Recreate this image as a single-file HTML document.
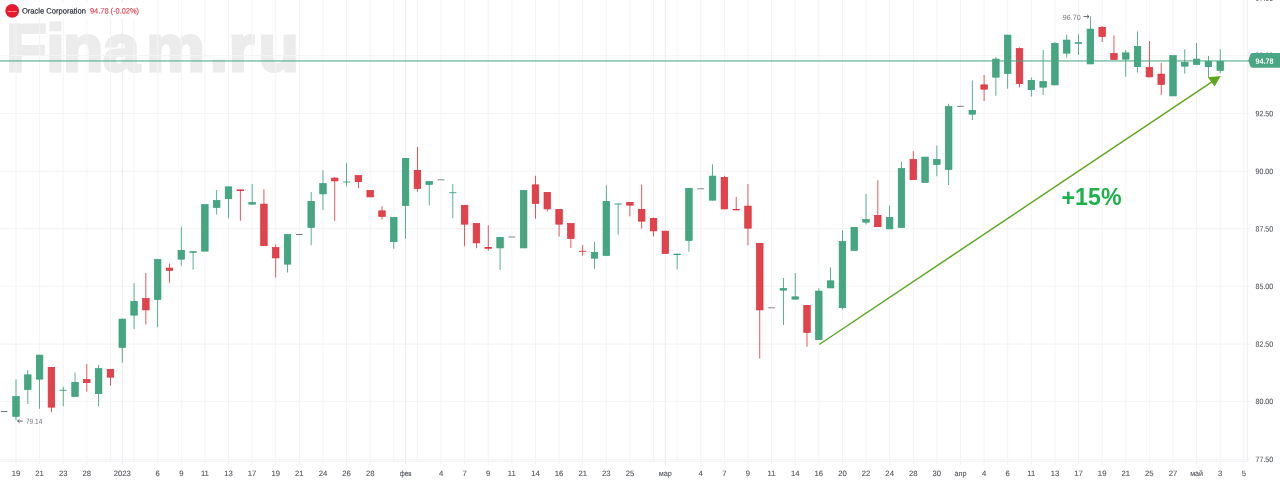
<!DOCTYPE html>
<html lang="ru"><head><meta charset="utf-8"><title>Oracle Corporation</title>
<style>
html,body{margin:0;padding:0;background:#fff;}
body{width:1280px;height:482px;overflow:hidden;position:relative;font-family:"Liberation Sans",sans-serif;}
svg{position:absolute;left:0;top:0;display:block;}
text{font-family:"Liberation Sans",sans-serif;}
</style></head><body>
<svg width="1280" height="482" viewBox="0 0 1280 482">
<rect x="0" y="0" width="1280" height="482" fill="#ffffff"/>
<text x="6.3 46.2 62.9 103 146.2 209.65 228.7 258.4" y="71.1" font-size="66" font-weight="bold" fill="#ececec" stroke="#ececec" stroke-width="3" stroke-linejoin="miter">Finam.ru</text>
<g fill="#f4f4f6">
<rect x="0" y="458.90" width="1250" height="1"/>
<rect x="0" y="400.80" width="1250" height="1"/>
<rect x="0" y="343.60" width="1250" height="1"/>
<rect x="0" y="285.80" width="1250" height="1"/>
<rect x="0" y="228.10" width="1250" height="1"/>
<rect x="0" y="170.70" width="1250" height="1"/>
<rect x="0" y="112.85" width="1250" height="1"/>
<rect x="0" y="55.10" width="1250" height="1"/>
</g>
<g fill="#f4f4f6">
<rect x="15.50" y="0" width="1" height="464.60"/>
<rect x="39.11" y="0" width="1" height="464.60"/>
<rect x="62.72" y="0" width="1" height="464.60"/>
<rect x="86.34" y="0" width="1" height="464.60"/>
<rect x="109.95" y="0" width="1" height="461.20"/>
<rect x="121.75" y="0" width="1" height="464.60" fill="#eaecef"/>
<rect x="133.56" y="0" width="1" height="461.20"/>
<rect x="157.17" y="0" width="1" height="464.60"/>
<rect x="180.78" y="0" width="1" height="464.60"/>
<rect x="204.40" y="0" width="1" height="464.60"/>
<rect x="228.01" y="0" width="1" height="464.60"/>
<rect x="251.62" y="0" width="1" height="464.60"/>
<rect x="275.23" y="0" width="1" height="464.60"/>
<rect x="298.84" y="0" width="1" height="464.60"/>
<rect x="322.46" y="0" width="1" height="464.60"/>
<rect x="346.07" y="0" width="1" height="464.60"/>
<rect x="369.68" y="0" width="1" height="464.60"/>
<rect x="393.29" y="0" width="1" height="461.20"/>
<rect x="405.10" y="0" width="1" height="464.60" fill="#eaecef"/>
<rect x="416.90" y="0" width="1" height="461.20"/>
<rect x="440.52" y="0" width="1" height="464.60"/>
<rect x="464.13" y="0" width="1" height="464.60"/>
<rect x="487.74" y="0" width="1" height="464.60"/>
<rect x="511.35" y="0" width="1" height="464.60"/>
<rect x="534.96" y="0" width="1" height="464.60"/>
<rect x="558.58" y="0" width="1" height="464.60"/>
<rect x="582.19" y="0" width="1" height="464.60"/>
<rect x="605.80" y="0" width="1" height="464.60"/>
<rect x="629.41" y="0" width="1" height="464.60"/>
<rect x="653.02" y="0" width="1" height="461.20"/>
<rect x="664.83" y="0" width="1" height="464.60" fill="#eaecef"/>
<rect x="676.64" y="0" width="1" height="461.20"/>
<rect x="700.25" y="0" width="1" height="464.60"/>
<rect x="723.86" y="0" width="1" height="464.60"/>
<rect x="747.47" y="0" width="1" height="464.60"/>
<rect x="771.08" y="0" width="1" height="464.60"/>
<rect x="794.70" y="0" width="1" height="464.60"/>
<rect x="818.31" y="0" width="1" height="464.60"/>
<rect x="841.92" y="0" width="1" height="464.60"/>
<rect x="865.53" y="0" width="1" height="464.60"/>
<rect x="889.14" y="0" width="1" height="464.60"/>
<rect x="912.76" y="0" width="1" height="464.60"/>
<rect x="936.37" y="0" width="1" height="464.60"/>
<rect x="959.98" y="0" width="1" height="464.60"/>
<rect x="983.59" y="0" width="1" height="464.60"/>
<rect x="1007.20" y="0" width="1" height="464.60"/>
<rect x="1030.82" y="0" width="1" height="464.60"/>
<rect x="1054.43" y="0" width="1" height="464.60"/>
<rect x="1078.04" y="0" width="1" height="464.60"/>
<rect x="1101.65" y="0" width="1" height="464.60"/>
<rect x="1125.26" y="0" width="1" height="464.60"/>
<rect x="1148.88" y="0" width="1" height="464.60"/>
<rect x="1172.49" y="0" width="1" height="464.60"/>
<rect x="1196.10" y="0" width="1" height="464.60"/>
<rect x="1219.71" y="0" width="1" height="464.60"/>
<rect x="1243.32" y="0" width="1" height="464.60"/>
</g>
<rect x="0" y="460.70" width="1248.00" height="1" fill="#eef0f3"/>
<rect x="1247.00" y="0" width="1" height="461.70" fill="#eef0f3"/>
<rect x="3" y="2.5" width="138" height="16.5" fill="#ffffff"/>
<rect x="0.89" y="411.10" width="6.60" height="0.8" fill="#55585f"/>
<rect x="15.60" y="379.25" width="0.80" height="41.25" fill="#339e78"/>
<rect x="12.75" y="396.60" width="6.50" height="19.80" fill="#47a682" stroke="#339e78" stroke-width="0.7"/>
<rect x="27.41" y="370.00" width="0.80" height="34.00" fill="#339e78"/>
<rect x="24.56" y="374.85" width="6.50" height="14.55" fill="#47a682" stroke="#339e78" stroke-width="0.7"/>
<rect x="39.21" y="354.75" width="0.80" height="54.00" fill="#339e78"/>
<rect x="36.36" y="355.10" width="6.50" height="24.05" fill="#47a682" stroke="#339e78" stroke-width="0.7"/>
<rect x="51.02" y="367.00" width="0.80" height="45.25" fill="#de303a"/>
<rect x="48.17" y="367.35" width="6.50" height="39.80" fill="#e0434b" stroke="#de303a" stroke-width="0.7"/>
<rect x="62.82" y="386.75" width="0.80" height="19.50" fill="#339e78"/>
<rect x="59.62" y="389.80" width="7.20" height="0.9" fill="#339e78"/>
<rect x="74.63" y="372.50" width="0.80" height="24.25" fill="#339e78"/>
<rect x="71.78" y="382.35" width="6.50" height="14.05" fill="#47a682" stroke="#339e78" stroke-width="0.7"/>
<rect x="86.44" y="364.00" width="0.80" height="27.75" fill="#de303a"/>
<rect x="83.59" y="379.60" width="6.50" height="3.05" fill="#e0434b" stroke="#de303a" stroke-width="0.7"/>
<rect x="98.24" y="365.00" width="0.80" height="41.25" fill="#339e78"/>
<rect x="95.39" y="368.60" width="6.50" height="25.05" fill="#47a682" stroke="#339e78" stroke-width="0.7"/>
<rect x="110.05" y="369.00" width="0.80" height="16.75" fill="#de303a"/>
<rect x="107.20" y="369.35" width="6.50" height="7.80" fill="#e0434b" stroke="#de303a" stroke-width="0.7"/>
<rect x="121.85" y="318.75" width="0.80" height="44.00" fill="#339e78"/>
<rect x="119.00" y="319.10" width="6.50" height="28.30" fill="#47a682" stroke="#339e78" stroke-width="0.7"/>
<rect x="133.66" y="283.25" width="0.80" height="45.75" fill="#339e78"/>
<rect x="130.81" y="301.35" width="6.50" height="13.80" fill="#47a682" stroke="#339e78" stroke-width="0.7"/>
<rect x="145.47" y="273.00" width="0.80" height="51.50" fill="#de303a"/>
<rect x="142.62" y="298.60" width="6.50" height="11.30" fill="#e0434b" stroke="#de303a" stroke-width="0.7"/>
<rect x="157.27" y="258.75" width="0.80" height="68.50" fill="#339e78"/>
<rect x="154.42" y="259.60" width="6.50" height="39.80" fill="#47a682" stroke="#339e78" stroke-width="0.7"/>
<rect x="169.08" y="263.50" width="0.80" height="19.25" fill="#de303a"/>
<rect x="166.23" y="268.10" width="6.50" height="2.30" fill="#e0434b" stroke="#de303a" stroke-width="0.7"/>
<rect x="180.88" y="226.75" width="0.80" height="39.00" fill="#339e78"/>
<rect x="178.03" y="250.35" width="6.50" height="8.80" fill="#47a682" stroke="#339e78" stroke-width="0.7"/>
<rect x="192.69" y="251.25" width="0.80" height="18.50" fill="#339e78"/>
<rect x="189.49" y="251.25" width="7.20" height="1.50" fill="#339e78"/>
<rect x="201.65" y="204.60" width="6.50" height="46.55" fill="#47a682" stroke="#339e78" stroke-width="0.7"/>
<rect x="216.30" y="190.00" width="0.80" height="24.50" fill="#339e78"/>
<rect x="213.45" y="200.60" width="6.50" height="6.80" fill="#47a682" stroke="#339e78" stroke-width="0.7"/>
<rect x="228.11" y="186.50" width="0.80" height="31.75" fill="#339e78"/>
<rect x="225.26" y="186.85" width="6.50" height="11.80" fill="#47a682" stroke="#339e78" stroke-width="0.7"/>
<rect x="239.91" y="189.50" width="0.80" height="31.25" fill="#de303a"/>
<rect x="236.71" y="189.50" width="7.20" height="1.50" fill="#de303a"/>
<rect x="251.72" y="184.00" width="0.80" height="20.50" fill="#339e78"/>
<rect x="248.87" y="202.60" width="6.50" height="1.55" fill="#47a682" stroke="#339e78" stroke-width="0.7"/>
<rect x="263.53" y="189.25" width="0.80" height="56.75" fill="#de303a"/>
<rect x="260.68" y="204.10" width="6.50" height="41.55" fill="#e0434b" stroke="#de303a" stroke-width="0.7"/>
<rect x="275.33" y="244.50" width="0.80" height="33.00" fill="#de303a"/>
<rect x="272.48" y="247.60" width="6.50" height="10.30" fill="#e0434b" stroke="#de303a" stroke-width="0.7"/>
<rect x="287.14" y="234.25" width="0.80" height="38.25" fill="#339e78"/>
<rect x="284.29" y="234.60" width="6.50" height="29.55" fill="#47a682" stroke="#339e78" stroke-width="0.7"/>
<rect x="296.04" y="234.10" width="6.60" height="0.8" fill="#55585f"/>
<rect x="310.75" y="192.00" width="0.80" height="53.25" fill="#339e78"/>
<rect x="307.90" y="201.35" width="6.50" height="26.05" fill="#47a682" stroke="#339e78" stroke-width="0.7"/>
<rect x="322.56" y="170.25" width="0.80" height="39.75" fill="#339e78"/>
<rect x="319.71" y="183.60" width="6.50" height="10.30" fill="#47a682" stroke="#339e78" stroke-width="0.7"/>
<rect x="334.36" y="177.00" width="0.80" height="43.75" fill="#de303a"/>
<rect x="331.51" y="178.10" width="6.50" height="2.80" fill="#e0434b" stroke="#de303a" stroke-width="0.7"/>
<rect x="346.17" y="163.25" width="0.80" height="23.00" fill="#339e78"/>
<rect x="342.97" y="181.55" width="7.20" height="0.9" fill="#339e78"/>
<rect x="357.97" y="175.25" width="0.80" height="13.00" fill="#de303a"/>
<rect x="355.12" y="175.60" width="6.50" height="6.05" fill="#e0434b" stroke="#de303a" stroke-width="0.7"/>
<rect x="366.93" y="190.35" width="6.50" height="6.55" fill="#e0434b" stroke="#de303a" stroke-width="0.7"/>
<rect x="381.59" y="206.25" width="0.80" height="13.25" fill="#de303a"/>
<rect x="378.74" y="210.85" width="6.50" height="5.55" fill="#e0434b" stroke="#de303a" stroke-width="0.7"/>
<rect x="393.39" y="217.25" width="0.80" height="31.50" fill="#339e78"/>
<rect x="390.54" y="217.60" width="6.50" height="24.05" fill="#47a682" stroke="#339e78" stroke-width="0.7"/>
<rect x="405.20" y="158.00" width="0.80" height="80.75" fill="#339e78"/>
<rect x="402.35" y="158.35" width="6.50" height="47.05" fill="#47a682" stroke="#339e78" stroke-width="0.7"/>
<rect x="417.00" y="147.00" width="0.80" height="44.75" fill="#de303a"/>
<rect x="414.15" y="170.35" width="6.50" height="18.05" fill="#e0434b" stroke="#de303a" stroke-width="0.7"/>
<rect x="428.81" y="181.25" width="0.80" height="24.25" fill="#339e78"/>
<rect x="425.96" y="181.60" width="6.50" height="2.80" fill="#47a682" stroke="#339e78" stroke-width="0.7"/>
<rect x="437.62" y="179.10" width="6.80" height="1.3" fill="#9fa2a8"/>
<rect x="452.42" y="184.00" width="0.80" height="34.25" fill="#339e78"/>
<rect x="449.22" y="192.30" width="7.20" height="0.9" fill="#339e78"/>
<rect x="464.23" y="205.00" width="0.80" height="41.25" fill="#de303a"/>
<rect x="461.38" y="205.35" width="6.50" height="18.80" fill="#e0434b" stroke="#de303a" stroke-width="0.7"/>
<rect x="476.03" y="223.25" width="0.80" height="25.00" fill="#de303a"/>
<rect x="473.18" y="223.60" width="6.50" height="19.30" fill="#e0434b" stroke="#de303a" stroke-width="0.7"/>
<rect x="487.84" y="225.25" width="0.80" height="25.50" fill="#de303a"/>
<rect x="484.64" y="247.00" width="7.20" height="1.75" fill="#de303a"/>
<rect x="499.65" y="237.00" width="0.80" height="33.00" fill="#339e78"/>
<rect x="496.80" y="237.35" width="6.50" height="10.55" fill="#47a682" stroke="#339e78" stroke-width="0.7"/>
<rect x="508.45" y="236.35" width="6.80" height="1.3" fill="#9fa2a8"/>
<rect x="520.41" y="190.35" width="6.50" height="57.55" fill="#47a682" stroke="#339e78" stroke-width="0.7"/>
<rect x="535.06" y="175.75" width="0.80" height="43.00" fill="#de303a"/>
<rect x="532.21" y="184.85" width="6.50" height="18.55" fill="#e0434b" stroke="#de303a" stroke-width="0.7"/>
<rect x="546.87" y="192.00" width="0.80" height="19.50" fill="#de303a"/>
<rect x="544.02" y="192.35" width="6.50" height="16.55" fill="#e0434b" stroke="#de303a" stroke-width="0.7"/>
<rect x="558.68" y="209.00" width="0.80" height="27.50" fill="#de303a"/>
<rect x="555.83" y="209.35" width="6.50" height="14.80" fill="#e0434b" stroke="#de303a" stroke-width="0.7"/>
<rect x="570.48" y="223.25" width="0.80" height="24.75" fill="#de303a"/>
<rect x="567.63" y="223.60" width="6.50" height="14.80" fill="#e0434b" stroke="#de303a" stroke-width="0.7"/>
<rect x="582.29" y="245.00" width="0.80" height="10.75" fill="#de303a"/>
<rect x="579.09" y="250.80" width="7.20" height="0.9" fill="#de303a"/>
<rect x="594.09" y="242.00" width="0.80" height="26.75" fill="#339e78"/>
<rect x="591.24" y="252.35" width="6.50" height="5.80" fill="#47a682" stroke="#339e78" stroke-width="0.7"/>
<rect x="605.90" y="185.25" width="0.80" height="70.50" fill="#339e78"/>
<rect x="603.05" y="201.35" width="6.50" height="54.05" fill="#47a682" stroke="#339e78" stroke-width="0.7"/>
<rect x="617.71" y="203.50" width="0.80" height="31.00" fill="#339e78"/>
<rect x="614.51" y="203.50" width="7.20" height="1.00" fill="#339e78"/>
<rect x="629.51" y="202.00" width="0.80" height="14.25" fill="#de303a"/>
<rect x="626.66" y="202.35" width="6.50" height="2.80" fill="#e0434b" stroke="#de303a" stroke-width="0.7"/>
<rect x="641.32" y="184.50" width="0.80" height="44.00" fill="#de303a"/>
<rect x="638.47" y="209.35" width="6.50" height="11.80" fill="#e0434b" stroke="#de303a" stroke-width="0.7"/>
<rect x="653.12" y="217.50" width="0.80" height="19.00" fill="#de303a"/>
<rect x="650.27" y="218.35" width="6.50" height="12.55" fill="#e0434b" stroke="#de303a" stroke-width="0.7"/>
<rect x="662.08" y="231.10" width="6.50" height="22.30" fill="#e0434b" stroke="#de303a" stroke-width="0.7"/>
<rect x="676.74" y="253.75" width="0.80" height="15.75" fill="#339e78"/>
<rect x="673.54" y="253.75" width="7.20" height="1.25" fill="#339e78"/>
<rect x="688.54" y="188.00" width="0.80" height="63.75" fill="#339e78"/>
<rect x="685.69" y="188.35" width="6.50" height="52.05" fill="#47a682" stroke="#339e78" stroke-width="0.7"/>
<rect x="697.35" y="188.10" width="6.80" height="1.3" fill="#9fa2a8"/>
<rect x="712.15" y="164.25" width="0.80" height="36.25" fill="#339e78"/>
<rect x="709.30" y="176.10" width="6.50" height="24.05" fill="#47a682" stroke="#339e78" stroke-width="0.7"/>
<rect x="723.96" y="175.75" width="0.80" height="33.50" fill="#de303a"/>
<rect x="721.11" y="177.35" width="6.50" height="31.55" fill="#e0434b" stroke="#de303a" stroke-width="0.7"/>
<rect x="735.77" y="197.00" width="0.80" height="13.25" fill="#de303a"/>
<rect x="732.57" y="209.00" width="7.20" height="1.25" fill="#de303a"/>
<rect x="747.57" y="184.00" width="0.80" height="61.50" fill="#de303a"/>
<rect x="744.72" y="206.10" width="6.50" height="22.05" fill="#e0434b" stroke="#de303a" stroke-width="0.7"/>
<rect x="759.38" y="243.00" width="0.80" height="115.50" fill="#de303a"/>
<rect x="756.53" y="243.35" width="6.50" height="66.55" fill="#e0434b" stroke="#de303a" stroke-width="0.7"/>
<rect x="768.18" y="307.10" width="6.80" height="1.3" fill="#9fa2a8"/>
<rect x="782.99" y="278.00" width="0.80" height="47.00" fill="#339e78"/>
<rect x="780.14" y="288.60" width="6.50" height="1.55" fill="#47a682" stroke="#339e78" stroke-width="0.7"/>
<rect x="794.80" y="273.00" width="0.80" height="26.50" fill="#339e78"/>
<rect x="791.95" y="296.85" width="6.50" height="2.30" fill="#47a682" stroke="#339e78" stroke-width="0.7"/>
<rect x="806.60" y="305.00" width="0.80" height="41.75" fill="#de303a"/>
<rect x="803.75" y="305.35" width="6.50" height="27.05" fill="#e0434b" stroke="#de303a" stroke-width="0.7"/>
<rect x="818.41" y="288.25" width="0.80" height="51.75" fill="#339e78"/>
<rect x="815.56" y="291.10" width="6.50" height="48.55" fill="#47a682" stroke="#339e78" stroke-width="0.7"/>
<rect x="830.21" y="267.50" width="0.80" height="20.75" fill="#339e78"/>
<rect x="827.36" y="280.85" width="6.50" height="7.05" fill="#47a682" stroke="#339e78" stroke-width="0.7"/>
<rect x="842.02" y="230.25" width="0.80" height="79.25" fill="#339e78"/>
<rect x="839.17" y="241.60" width="6.50" height="66.05" fill="#47a682" stroke="#339e78" stroke-width="0.7"/>
<rect x="850.98" y="227.35" width="6.50" height="23.05" fill="#47a682" stroke="#339e78" stroke-width="0.7"/>
<rect x="865.63" y="194.00" width="0.80" height="30.50" fill="#339e78"/>
<rect x="862.78" y="219.60" width="6.50" height="2.55" fill="#47a682" stroke="#339e78" stroke-width="0.7"/>
<rect x="877.44" y="180.25" width="0.80" height="46.75" fill="#de303a"/>
<rect x="874.59" y="215.35" width="6.50" height="11.30" fill="#e0434b" stroke="#de303a" stroke-width="0.7"/>
<rect x="889.24" y="205.50" width="0.80" height="23.75" fill="#339e78"/>
<rect x="886.39" y="217.60" width="6.50" height="11.30" fill="#47a682" stroke="#339e78" stroke-width="0.7"/>
<rect x="901.05" y="162.00" width="0.80" height="65.75" fill="#339e78"/>
<rect x="898.20" y="168.60" width="6.50" height="58.80" fill="#47a682" stroke="#339e78" stroke-width="0.7"/>
<rect x="912.86" y="151.25" width="0.80" height="28.75" fill="#de303a"/>
<rect x="910.01" y="159.60" width="6.50" height="20.05" fill="#e0434b" stroke="#de303a" stroke-width="0.7"/>
<rect x="921.81" y="157.10" width="6.50" height="25.30" fill="#47a682" stroke="#339e78" stroke-width="0.7"/>
<rect x="936.47" y="145.50" width="0.80" height="30.75" fill="#339e78"/>
<rect x="933.62" y="159.60" width="6.50" height="4.80" fill="#47a682" stroke="#339e78" stroke-width="0.7"/>
<rect x="948.27" y="103.75" width="0.80" height="81.25" fill="#339e78"/>
<rect x="945.42" y="106.60" width="6.50" height="62.80" fill="#47a682" stroke="#339e78" stroke-width="0.7"/>
<rect x="957.18" y="105.85" width="6.60" height="0.8" fill="#55585f"/>
<rect x="971.89" y="80.50" width="0.80" height="39.50" fill="#339e78"/>
<rect x="969.04" y="110.35" width="6.50" height="3.80" fill="#47a682" stroke="#339e78" stroke-width="0.7"/>
<rect x="983.69" y="75.00" width="0.80" height="26.00" fill="#de303a"/>
<rect x="980.84" y="84.85" width="6.50" height="4.30" fill="#e0434b" stroke="#de303a" stroke-width="0.7"/>
<rect x="995.50" y="57.00" width="0.80" height="38.75" fill="#339e78"/>
<rect x="992.65" y="59.10" width="6.50" height="18.05" fill="#47a682" stroke="#339e78" stroke-width="0.7"/>
<rect x="1007.30" y="34.75" width="0.80" height="54.00" fill="#339e78"/>
<rect x="1004.45" y="35.10" width="6.50" height="38.30" fill="#47a682" stroke="#339e78" stroke-width="0.7"/>
<rect x="1019.11" y="47.50" width="0.80" height="40.00" fill="#de303a"/>
<rect x="1016.26" y="48.60" width="6.50" height="35.05" fill="#e0434b" stroke="#de303a" stroke-width="0.7"/>
<rect x="1030.92" y="77.50" width="0.80" height="19.00" fill="#339e78"/>
<rect x="1028.07" y="80.35" width="6.50" height="9.30" fill="#47a682" stroke="#339e78" stroke-width="0.7"/>
<rect x="1042.72" y="50.00" width="0.80" height="45.00" fill="#339e78"/>
<rect x="1039.87" y="81.60" width="6.50" height="5.55" fill="#47a682" stroke="#339e78" stroke-width="0.7"/>
<rect x="1054.53" y="41.75" width="0.80" height="43.50" fill="#339e78"/>
<rect x="1051.68" y="43.35" width="6.50" height="41.55" fill="#47a682" stroke="#339e78" stroke-width="0.7"/>
<rect x="1066.33" y="34.75" width="0.80" height="22.75" fill="#339e78"/>
<rect x="1063.48" y="40.10" width="6.50" height="13.05" fill="#47a682" stroke="#339e78" stroke-width="0.7"/>
<rect x="1078.14" y="34.25" width="0.80" height="20.75" fill="#339e78"/>
<rect x="1074.94" y="42.25" width="7.20" height="1.50" fill="#339e78"/>
<rect x="1089.95" y="16.25" width="0.80" height="48.00" fill="#339e78"/>
<rect x="1087.10" y="29.10" width="6.50" height="34.80" fill="#47a682" stroke="#339e78" stroke-width="0.7"/>
<rect x="1101.75" y="26.00" width="0.80" height="16.00" fill="#de303a"/>
<rect x="1098.90" y="27.35" width="6.50" height="9.05" fill="#e0434b" stroke="#de303a" stroke-width="0.7"/>
<rect x="1113.56" y="35.50" width="0.80" height="24.25" fill="#de303a"/>
<rect x="1110.71" y="53.60" width="6.50" height="5.80" fill="#e0434b" stroke="#de303a" stroke-width="0.7"/>
<rect x="1125.36" y="50.00" width="0.80" height="26.75" fill="#339e78"/>
<rect x="1122.51" y="52.85" width="6.50" height="6.30" fill="#47a682" stroke="#339e78" stroke-width="0.7"/>
<rect x="1137.17" y="31.50" width="0.80" height="41.00" fill="#339e78"/>
<rect x="1134.32" y="46.35" width="6.50" height="20.30" fill="#47a682" stroke="#339e78" stroke-width="0.7"/>
<rect x="1148.98" y="41.00" width="0.80" height="36.25" fill="#de303a"/>
<rect x="1146.13" y="67.35" width="6.50" height="9.55" fill="#e0434b" stroke="#de303a" stroke-width="0.7"/>
<rect x="1160.78" y="63.00" width="0.80" height="32.00" fill="#de303a"/>
<rect x="1157.93" y="74.10" width="6.50" height="10.30" fill="#e0434b" stroke="#de303a" stroke-width="0.7"/>
<rect x="1169.74" y="55.60" width="6.50" height="40.30" fill="#47a682" stroke="#339e78" stroke-width="0.7"/>
<rect x="1184.39" y="49.25" width="0.80" height="24.50" fill="#339e78"/>
<rect x="1181.54" y="62.35" width="6.50" height="3.80" fill="#47a682" stroke="#339e78" stroke-width="0.7"/>
<rect x="1196.20" y="43.00" width="0.80" height="21.75" fill="#339e78"/>
<rect x="1193.35" y="59.10" width="6.50" height="5.30" fill="#47a682" stroke="#339e78" stroke-width="0.7"/>
<rect x="1208.01" y="56.00" width="0.80" height="21.50" fill="#339e78"/>
<rect x="1205.16" y="61.35" width="6.50" height="5.30" fill="#47a682" stroke="#339e78" stroke-width="0.7"/>
<rect x="1219.81" y="49.25" width="0.80" height="24.00" fill="#339e78"/>
<rect x="1216.96" y="61.35" width="6.50" height="9.05" fill="#47a682" stroke="#339e78" stroke-width="0.7"/>
<rect x="0" y="60.05" width="1249" height="1.7" fill="#47a682" fill-opacity="0.6"/>
<line x1="819.2" y1="344.5" x2="1213" y2="81.2" stroke="#5fa81e" stroke-width="1.5"/>
<polygon points="1220.7,76.0 1207.9,77.3 1214.6,86.6" fill="#5fa81e"/>
<text x="1061.5" y="204.9" dy="1.5 -1.5 0 0" font-size="24.4" font-weight="bold" fill="#1eb14b" textLength="60" lengthAdjust="spacingAndGlyphs">+15%</text>
<g font-size="7.6" fill="#74777d">
<text transform="translate(26.00 424.10) matrix(1 0.001 0 1 0 0)" textLength="16.3" lengthAdjust="spacingAndGlyphs">79.14</text>
<text transform="translate(1062.80 20.00) matrix(1 0.001 0 1 0 0)" textLength="17.8" lengthAdjust="spacingAndGlyphs">96.70</text>
</g>
<g stroke="#3f4248" stroke-width="0.8" fill="none">
<path d="M22.8 421.1H17.6M19.5 419.4L17.6 421.1L19.5 422.8"/>
<path d="M1083.4 16.6H1089M1087.1 14.9L1089 16.6L1087.1 18.3"/>
</g>
<g font-size="7.7" fill="#55585f" stroke="#55585f" stroke-width="0.12" text-anchor="middle">
<text transform="translate(16.00 476.00) matrix(1 0.001 0 1 0 0)">19</text>
<text transform="translate(39.61 476.00) matrix(1 0.001 0 1 0 0)">21</text>
<text transform="translate(63.22 476.00) matrix(1 0.001 0 1 0 0)">23</text>
<text transform="translate(86.84 476.00) matrix(1 0.001 0 1 0 0)">28</text>
<text transform="translate(122.25 476.00) matrix(1 0.001 0 1 0 0)">2023</text>
<text transform="translate(157.67 476.00) matrix(1 0.001 0 1 0 0)">6</text>
<text transform="translate(181.28 476.00) matrix(1 0.001 0 1 0 0)">9</text>
<text transform="translate(204.90 476.00) matrix(1 0.001 0 1 0 0)">11</text>
<text transform="translate(228.51 476.00) matrix(1 0.001 0 1 0 0)">13</text>
<text transform="translate(252.12 476.00) matrix(1 0.001 0 1 0 0)">17</text>
<text transform="translate(275.73 476.00) matrix(1 0.001 0 1 0 0)">19</text>
<text transform="translate(299.34 476.00) matrix(1 0.001 0 1 0 0)">21</text>
<text transform="translate(322.96 476.00) matrix(1 0.001 0 1 0 0)">24</text>
<text transform="translate(346.57 476.00) matrix(1 0.001 0 1 0 0)">26</text>
<text transform="translate(370.18 476.00) matrix(1 0.001 0 1 0 0)">28</text>
<text transform="translate(405.60 476.00) matrix(1 0.001 0 1 0 0)" textLength="11.75" lengthAdjust="spacingAndGlyphs">фев</text>
<text transform="translate(441.02 476.00) matrix(1 0.001 0 1 0 0)">4</text>
<text transform="translate(464.63 476.00) matrix(1 0.001 0 1 0 0)">7</text>
<text transform="translate(488.24 476.00) matrix(1 0.001 0 1 0 0)">9</text>
<text transform="translate(511.85 476.00) matrix(1 0.001 0 1 0 0)">11</text>
<text transform="translate(535.46 476.00) matrix(1 0.001 0 1 0 0)">14</text>
<text transform="translate(559.08 476.00) matrix(1 0.001 0 1 0 0)">16</text>
<text transform="translate(582.69 476.00) matrix(1 0.001 0 1 0 0)">21</text>
<text transform="translate(606.30 476.00) matrix(1 0.001 0 1 0 0)">23</text>
<text transform="translate(629.91 476.00) matrix(1 0.001 0 1 0 0)">25</text>
<text transform="translate(665.33 476.00) matrix(1 0.001 0 1 0 0)" textLength="13.1" lengthAdjust="spacingAndGlyphs">мар</text>
<text transform="translate(700.75 476.00) matrix(1 0.001 0 1 0 0)">4</text>
<text transform="translate(724.36 476.00) matrix(1 0.001 0 1 0 0)">7</text>
<text transform="translate(747.97 476.00) matrix(1 0.001 0 1 0 0)">9</text>
<text transform="translate(771.58 476.00) matrix(1 0.001 0 1 0 0)">11</text>
<text transform="translate(795.20 476.00) matrix(1 0.001 0 1 0 0)">14</text>
<text transform="translate(818.81 476.00) matrix(1 0.001 0 1 0 0)">16</text>
<text transform="translate(842.42 476.00) matrix(1 0.001 0 1 0 0)">20</text>
<text transform="translate(866.03 476.00) matrix(1 0.001 0 1 0 0)">22</text>
<text transform="translate(889.64 476.00) matrix(1 0.001 0 1 0 0)">24</text>
<text transform="translate(913.26 476.00) matrix(1 0.001 0 1 0 0)">28</text>
<text transform="translate(936.87 476.00) matrix(1 0.001 0 1 0 0)">30</text>
<text transform="translate(960.48 476.00) matrix(1 0.001 0 1 0 0)" textLength="11.9" lengthAdjust="spacingAndGlyphs">апр</text>
<text transform="translate(984.09 476.00) matrix(1 0.001 0 1 0 0)">4</text>
<text transform="translate(1007.70 476.00) matrix(1 0.001 0 1 0 0)">6</text>
<text transform="translate(1031.32 476.00) matrix(1 0.001 0 1 0 0)">11</text>
<text transform="translate(1054.93 476.00) matrix(1 0.001 0 1 0 0)">13</text>
<text transform="translate(1078.54 476.00) matrix(1 0.001 0 1 0 0)">17</text>
<text transform="translate(1102.15 476.00) matrix(1 0.001 0 1 0 0)">19</text>
<text transform="translate(1125.76 476.00) matrix(1 0.001 0 1 0 0)">21</text>
<text transform="translate(1149.38 476.00) matrix(1 0.001 0 1 0 0)">25</text>
<text transform="translate(1172.99 476.00) matrix(1 0.001 0 1 0 0)">27</text>
<text transform="translate(1196.60 476.00) matrix(1 0.001 0 1 0 0)" textLength="12.9" lengthAdjust="spacingAndGlyphs">май</text>
<text transform="translate(1220.21 476.00) matrix(1 0.001 0 1 0 0)">3</text>
<text transform="translate(1243.82 476.00) matrix(1 0.001 0 1 0 0)">5</text>
</g>
<g font-size="7.7" fill="#55585f" stroke="#55585f" stroke-width="0.12">
<text transform="translate(1255.60 461.90) matrix(1 0.001 0 1 0 0)" textLength="17.6" lengthAdjust="spacingAndGlyphs">77.50</text>
<text transform="translate(1255.60 403.90) matrix(1 0.001 0 1 0 0)" textLength="17.6" lengthAdjust="spacingAndGlyphs">80.00</text>
<text transform="translate(1255.60 346.85) matrix(1 0.001 0 1 0 0)" textLength="17.6" lengthAdjust="spacingAndGlyphs">82.50</text>
<text transform="translate(1255.60 289.10) matrix(1 0.001 0 1 0 0)" textLength="17.6" lengthAdjust="spacingAndGlyphs">85.00</text>
<text transform="translate(1255.60 231.40) matrix(1 0.001 0 1 0 0)" textLength="17.6" lengthAdjust="spacingAndGlyphs">87.50</text>
<text transform="translate(1255.60 174.00) matrix(1 0.001 0 1 0 0)" textLength="17.6" lengthAdjust="spacingAndGlyphs">90.00</text>
<text transform="translate(1255.60 116.15) matrix(1 0.001 0 1 0 0)" textLength="17.6" lengthAdjust="spacingAndGlyphs">92.50</text>
<text transform="translate(1255.60 58.00) matrix(1 0.001 0 1 0 0)" textLength="17.6" lengthAdjust="spacingAndGlyphs">95.00</text>
<text transform="translate(1255.60 0.80) matrix(1 0.001 0 1 0 0)" textLength="17.6" lengthAdjust="spacingAndGlyphs">97.50</text>
</g>
<path d="M1248.3 60.5L1250 55.2Q1250.6 53.1 1252.8 53.1H1280V67.7H1252.8Q1250.6 67.7 1250 65.8Z" fill="#4ba685"/>
<text transform="translate(1255.60 63.70) matrix(1 0.001 0 1 0 0)" font-size="7.7" font-weight="bold" fill="#ffffff" textLength="18" lengthAdjust="spacingAndGlyphs">94.78</text>
<circle cx="12.2" cy="10.85" r="6.9" fill="#e51b2c"/>
<text x="12.2" y="11.75" font-size="2.5" font-weight="bold" fill="#ffffff" text-anchor="middle" textLength="9.6" lengthAdjust="spacingAndGlyphs">ORACLE</text>
<text transform="translate(21.90 13.50) matrix(1 0.001 0 1 0 0)" font-size="7.7" fill="#2a2e39" stroke="#2a2e39" stroke-width="0.2" textLength="64" lengthAdjust="spacingAndGlyphs">Oracle Corporation</text>
<text transform="translate(90.00 13.50) matrix(1 0.001 0 1 0 0)" font-size="7.7" fill="#e5454f" stroke="#e5454f" stroke-width="0.15" textLength="49" lengthAdjust="spacingAndGlyphs">94.78 (-0.02%)</text>
</svg>
</body></html>
